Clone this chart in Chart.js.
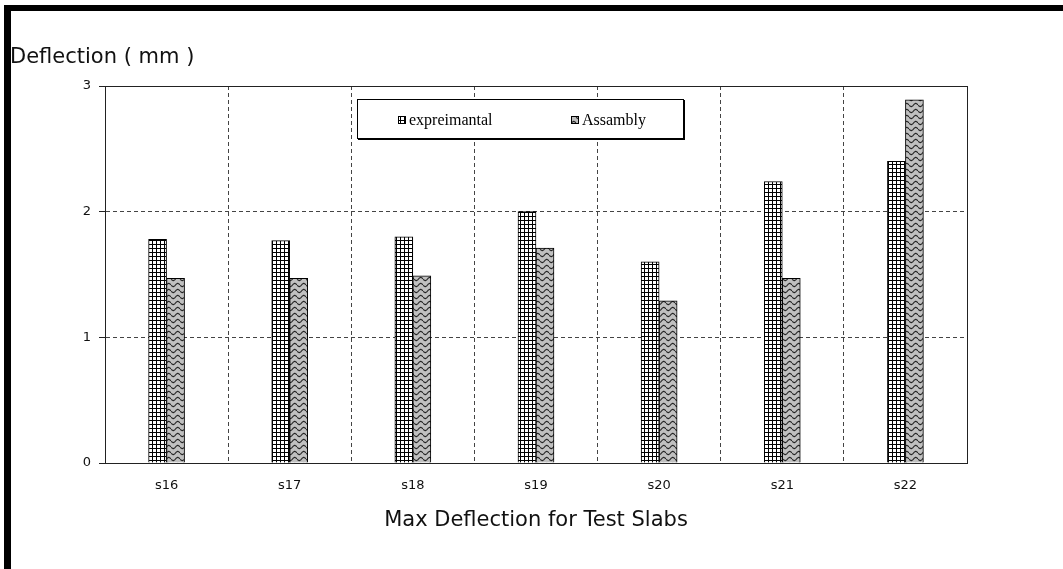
<!DOCTYPE html>
<html>
<head>
<meta charset="utf-8">
<script src="https://cdn.jsdelivr.net/npm/chart.js@4.4.1/dist/chart.umd.min.js"></script>
<style>
  html, body { margin: 0; padding: 0; background: #fff; }
  #wrap { width: 1063px; height: 569px; position: relative; }
</style>
</head>
<body>
<div id="wrap"><canvas id="c" width="1063" height="569"></canvas></div>
<script>
// Slab labels and measured / assembled maximum deflections (mm)
const categories = ['s16', 's17', 's18', 's19', 's20', 's21', 's22'];
const expreimantal = [1.78, 1.77, 1.80, 2.00, 1.60, 2.24, 2.40];
const assambly = [1.47, 1.47, 1.49, 1.71, 1.29, 1.47, 2.89];
const seriesNames = ['expreimantal', 'Assambly'];
const yTicks = [0, 1, 2, 3];
const yTitle = 'Deflection ( mm )';
const xTitle = 'Max Deflection for Test Slabs';

// Fill patterns: square cross-hatch and grey wave
function gridPattern() {
  const p = document.createElement('canvas');
  p.width = 4; p.height = 4;
  const g = p.getContext('2d');
  g.fillStyle = '#fff'; g.fillRect(0, 0, 4, 4);
  g.fillStyle = '#000';
  g.fillRect(0, 0, 4, 1);
  g.fillRect(0, 0, 1, 4);
  return g.createPattern(p, 'repeat');
}
function wavePattern() {
  const p = document.createElement('canvas');
  p.width = 9; p.height = 6;
  const g = p.getContext('2d');
  g.fillStyle = '#c0c0c0'; g.fillRect(0, 0, 9, 6);
  g.strokeStyle = '#222';
  g.lineWidth = 1.1;
  g.beginPath();
  for (let x = 0; x <= 9; x += 0.5) {
    const y = 3 + 1.6 * Math.sin((x / 9) * Math.PI * 2);
    if (x === 0) g.moveTo(x, y); else g.lineTo(x, y);
  }
  g.stroke();
  return g.createPattern(p, 'repeat');
}
const fills = [gridPattern(), wavePattern()];

const decor = {
  id: 'decor',
  beforeDraw(chart) {
    const ctx = chart.ctx;
    ctx.save();
    ctx.fillStyle = '#fff';
    ctx.fillRect(0, 0, chart.width, chart.height);
    ctx.fillStyle = '#000';
    ctx.fillRect(4, 5, chart.width - 4, 6);
    ctx.fillRect(4, 5, 7, chart.height - 5);
    ctx.restore();
  },
  afterDatasetsDraw(chart) {
    const ctx = chart.ctx;
    const a = chart.chartArea;
    ctx.save();
    // plot frame
    ctx.strokeStyle = '#222';
    ctx.lineWidth = 1;
    ctx.strokeRect(Math.round(a.left) + 0.5, Math.round(a.top) + 0.5,
                   Math.round(a.right - a.left), Math.round(a.bottom - a.top));
    // legend box
    const bx = 357, by = 99, bw = 327, bh = 40;
    ctx.fillStyle = '#fff';
    ctx.fillRect(bx, by, bw, bh);
    ctx.fillStyle = '#000';
    ctx.fillRect(bx + 1, by + bh, bw, 1);
    ctx.fillRect(bx + bw, by + 1, 1, bh);
    ctx.strokeStyle = '#000';
    ctx.strokeRect(bx + 0.5, by + 0.5, bw - 1, bh - 1);
    const items = [{ x: 398, label: seriesNames[0] }, { x: 571, label: seriesNames[1] }];
    ctx.font = '16px "Liberation Serif", serif';
    ctx.textBaseline = 'middle';
    items.forEach((it, i) => {
      ctx.fillStyle = fills[i];
      ctx.fillRect(it.x, 116, 8, 8);
      ctx.strokeStyle = '#000';
      ctx.strokeRect(it.x + 0.5, 116.5, 7, 7);
      ctx.fillStyle = '#000';
      ctx.fillText(it.label, it.x + 11, 121);
    });
    ctx.restore();
  },
  afterDraw(chart) {
    const ctx = chart.ctx;
    ctx.save();
    ctx.fillStyle = '#111';
    ctx.font = '21px "DejaVu Sans", sans-serif';
    ctx.textBaseline = 'middle';
    ctx.textAlign = 'left';
    ctx.fillText(yTitle, 10, 58);
    ctx.restore();
  }
};

new Chart(document.getElementById('c'), {
  type: 'bar',
  data: {
    labels: categories,
    datasets: [
      { label: seriesNames[0], data: expreimantal, backgroundColor: fills[0],
        borderColor: '#000', borderWidth: 1, barThickness: 18 },
      { label: seriesNames[1], data: assambly, backgroundColor: fills[1],
        borderColor: '#000', borderWidth: 1, barThickness: 18 }
    ]
  },
  options: {
    responsive: false,
    animation: false,
    devicePixelRatio: 1,
    layout: { padding: { left: 0, right: 96, top: 86, bottom: 0 } },
    plugins: { legend: { display: false }, tooltip: { enabled: false }, title: { display: false } },
    scales: {
      x: {
        afterFit(s) { s.height = 106; },
        grid: { display: true, offset: true, drawTicks: false, color: '#444', lineWidth: 1 },
        border: { display: true, color: '#222', width: 1, dash: [4, 3] },
        ticks: { color: '#111', padding: 15, font: { family: 'DejaVu Sans', size: 13 } },
        title: { display: true, text: xTitle, color: '#111',
                 font: { family: 'DejaVu Sans', size: 21 }, padding: { top: 0, bottom: 36 } }
      },
      y: {
        min: 0, max: 3,
        afterFit(s) { s.width = 105; },
        afterBuildTicks(s) { s.ticks = yTicks.map(v => ({ value: v })); },
        grid: { display: true, color: '#444', lineWidth: 1, tickLength: 6,
                tickColor: '#222', tickBorderDash: [] },
        border: { display: true, color: '#222', width: 1, dash: [4, 3] },
        ticks: { color: '#111', padding: 8, font: { family: 'DejaVu Sans', size: 13 } }
      }
    }
  },
  plugins: [decor]
});
</script>
</body>
</html>
